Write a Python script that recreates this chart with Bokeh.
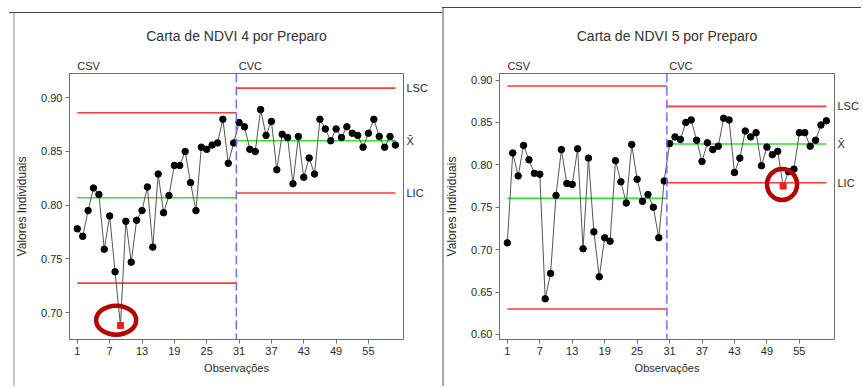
import numpy as np
from bokeh.plotting import figure
from bokeh.layouts import row
from bokeh.models import FixedTicker, PrintfTickFormatter, Span, LinearAxis
from bokeh.embed import file_html
from bokeh.resources import INLINE

# ---------------- data ----------------
obs = list(range(1, 61))
stages = ["CSV", "CVC"]
stage_size = [30, 30]
x_ticks = [1, 7, 13, 19, 25, 31, 37, 43, 49, 55]
limit_names = ["LSC", "X\u0304", "LIC"]

ndvi4 = [0.778, 0.771, 0.795, 0.816, 0.810, 0.759, 0.790, 0.738, 0.688, 0.785,
         0.747, 0.786, 0.795, 0.817, 0.761, 0.829, 0.793, 0.809, 0.837, 0.837,
         0.850, 0.821, 0.795, 0.854, 0.852, 0.856, 0.858, 0.880, 0.839, 0.858,
         0.877, 0.873, 0.852, 0.850, 0.889, 0.865, 0.878, 0.833, 0.866, 0.863,
         0.820, 0.864, 0.826, 0.844, 0.829, 0.880, 0.871, 0.860, 0.871, 0.863,
         0.873, 0.867, 0.865, 0.854, 0.867, 0.880, 0.864, 0.854, 0.864, 0.856]
lsc4 = [0.886, 0.909]
xbar4 = [0.807, 0.860]
lic4 = [0.7275, 0.8114]
y_ticks4 = [0.70, 0.75, 0.80, 0.85, 0.90]

ndvi5 = [0.708, 0.814, 0.787, 0.823, 0.806, 0.790, 0.789, 0.642, 0.672, 0.764,
         0.818, 0.778, 0.777, 0.819, 0.701, 0.808, 0.721, 0.668, 0.714, 0.710,
         0.805, 0.780, 0.755, 0.824, 0.783, 0.757, 0.765, 0.750, 0.714, 0.781,
         0.825, 0.833, 0.830, 0.850, 0.853, 0.829, 0.804, 0.826, 0.818, 0.822,
         0.855, 0.853, 0.791, 0.808, 0.840, 0.833, 0.838, 0.799, 0.821, 0.812,
         0.816, 0.775, 0.792, 0.795, 0.838, 0.838, 0.822, 0.829, 0.847, 0.852]
lsc5 = [0.893, 0.869]
xbar5 = [0.7605, 0.8246]
lic5 = [0.630, 0.779]
y_ticks5 = [0.60, 0.65, 0.70, 0.75, 0.80, 0.85, 0.90]

FONT = "Liberation Sans"
TXT = "#2a2a2a"
AX = "#6e6e6e"
X_RANGE = (-0.45, 61.5)
STAGE_LABEL_SHIFT = 2.1  # stage names sit just right of each stage's first observation


def make_chart(title, values, lsc, xbar, lic, y_ticks, y_range, width, height,
               mb_left, mb_right, mb_top, mb_bottom, ring_w, ring_h,
               ring_dx, ring_dy, border_css):
    p = figure(width=width, height=height, output_backend="svg", toolbar_location=None,
               x_range=X_RANGE, y_range=y_range,
               min_border_left=mb_left, min_border_right=mb_right,
               min_border_top=mb_top, min_border_bottom=mb_bottom)
    p.border_fill_color = None
    p.background_fill_color = "white"
    p.outline_line_color = AX
    p.outline_line_width = 1
    p.grid.visible = False
    p.styles = {"background": border_css}

    p.title.text = title
    p.title.align = "center"
    p.title.text_font = FONT
    p.title.text_font_size = "14px"
    p.title.text_font_style = "normal"
    p.title.text_color = "#333333"
    p.title.standoff = 26

    for ax in (p.xaxis[0], p.yaxis[0]):
        ax.axis_line_color = AX
        ax.major_tick_line_color = AX
        ax.major_tick_in = 0
        ax.major_tick_out = 4
        ax.minor_tick_line_color = None
        ax.major_label_text_font = FONT
        ax.major_label_text_font_size = "11px"
        ax.major_label_text_color = TXT
        ax.axis_label_text_font = FONT
        ax.axis_label_text_font_style = "normal"
        ax.axis_label_text_color = TXT
    p.xaxis.ticker = FixedTicker(ticks=x_ticks, minor_ticks=[])
    p.yaxis.ticker = FixedTicker(ticks=y_ticks, minor_ticks=[])
    p.yaxis.formatter = PrintfTickFormatter(format="%.2f")
    p.xaxis.axis_label = "Observações"
    p.xaxis.axis_label_text_font_size = "11px"
    p.xaxis.major_label_standoff = 3
    p.xaxis.axis_label_standoff = 4
    p.yaxis.axis_label = "Valores Individuais"
    p.yaxis.axis_label_text_font_size = "12px"
    p.yaxis.major_label_standoff = 3
    p.yaxis.axis_label_standoff = 9

    # stage boundaries
    starts, ends = [], []
    s = 1
    for n in stage_size:
        starts.append(s)
        ends.append(s + n - 1)
        s += n
    x0 = [st - 0.5 if i > 0 else st for i, st in enumerate(starts)]
    x1 = [en + 0.5 if i < len(ends) - 1 else en for i, en in enumerate(ends)]

    p.segment(x0=x0, y0=lsc, x1=x1, y1=lsc, line_color="#ff3b3b", line_width=1.6)
    p.segment(x0=x0, y0=lic, x1=x1, y1=lic, line_color="#ff3b3b", line_width=1.6)
    p.segment(x0=x0, y0=xbar, x1=x1, y1=xbar, line_color="#33e033", line_width=1.6)

    for b in x1[:-1]:
        p.add_layout(Span(location=b, dimension="height", line_color="#6f6fff",
                          line_width=1.5, line_dash="9 4"))

    v = np.array(values)
    x = np.array(obs)
    stage_idx = np.repeat(np.arange(len(stage_size)), stage_size)
    out = (v > np.array(lsc)[stage_idx]) | (v < np.array(lic)[stage_idx])

    p.line(x, v, line_color="#555555", line_width=1)
    p.scatter(x[~out], v[~out], marker="circle", size=6.5, fill_color="black",
              line_color="black")
    p.scatter(x[out], v[out], marker="square", size=6, fill_color="#ff1a1a",
              line_color="#ff1a1a")

    # highlight rings around out-of-control points
    p.ellipse(x=x[out] + ring_dx, y=v[out] + ring_dy, width=ring_w, height=ring_h,
              width_units="screen", height_units="screen",
              fill_color=None, line_color="#b30000", line_width=4.5)

    # stage names above the frame (as a label-only axis)
    stage_pos = [st + STAGE_LABEL_SHIFT for st in starts]
    stage_axis = LinearAxis(ticker=FixedTicker(ticks=stage_pos, minor_ticks=[]),
                            major_label_overrides={sp: nm for sp, nm in zip(stage_pos, stages)},
                            axis_line_color=None, major_tick_line_color=None,
                            minor_tick_line_color=None, major_tick_in=0, major_tick_out=0,
                            major_label_standoff=2,
                            major_label_text_font=FONT, major_label_text_font_size="11px",
                            major_label_text_color=TXT)
    p.add_layout(stage_axis, "above")

    # control-limit names at the right of the frame (last stage)
    lim_vals = [lsc[-1], xbar[-1], lic[-1]]
    lim_axis = LinearAxis(ticker=FixedTicker(ticks=lim_vals, minor_ticks=[]),
                          major_label_overrides={lv: nm for lv, nm in zip(lim_vals, limit_names)},
                          axis_line_color=None, major_tick_line_color=None,
                          minor_tick_line_color=None, major_tick_in=0, major_tick_out=0,
                          major_label_standoff=3,
                          major_label_text_font=FONT, major_label_text_font_size="11px",
                          major_label_text_color=TXT)
    p.add_layout(lim_axis, "right")
    return p


left_css = ("linear-gradient(#444,#444) 9px 12px / 433px 1px no-repeat, "
            "linear-gradient(#c4c4c4,#c4c4c4) 13px 12px / 2px 374px no-repeat, white")
right_css = ("linear-gradient(#444,#444) 0px 7px / 419px 1px no-repeat, "
             "linear-gradient(#a8a8a8,#a8a8a8) 0px 7px / 2px 379px no-repeat, white")

p1 = make_chart("Carta de NDVI 4 por Preparo", ndvi4, lsc4, xbar4, lic4, y_ticks4,
                (0.675, 0.9226), 442, 386, 69, 39, 73, 47, 40, 29, -0.8, 0.005, left_css)
p2 = make_chart("Carta de NDVI 5 por Preparo", ndvi5, lsc5, xbar5, lic5, y_ticks5,
                (0.594, 0.9078), 419, 386, 56, 26, 70, 47, 30, 31, -0.2, 0.002, right_css)

layout = row(p1, p2)
open("out.html", "w").write(file_html(layout, INLINE))
